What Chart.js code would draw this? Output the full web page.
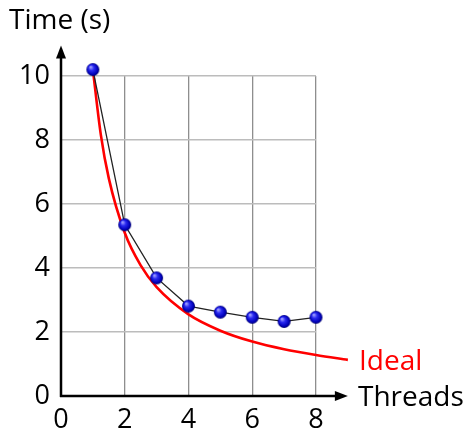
<!DOCTYPE html>
<html>
<head>
<meta charset="utf-8">
<script src="https://cdn.jsdelivr.net/npm/chart.js@4.4.1/dist/chart.umd.min.js"></script>
<style>
  html, body { margin: 0; padding: 0; background: #fff; }
  #wrap { width: 469px; height: 429px; }
</style>
</head>
<body>
<div id="wrap"><canvas id="timeChart" width="469" height="429"></canvas></div>
<script>
// Datos medidos
const threads = [1, 2, 3, 4, 5, 6, 7, 8];
const times = [10.2, 5.35, 3.69, 2.81, 2.62, 2.46, 2.33, 2.46];

// Curva ideal
const idealThreads = [1, 1.25, 1.5, 2, 2.5, 3, 4, 5, 6, 7, 8, 9];
const idealTimes = [10.2, 8.16, 6.8, 5.1, 4.08, 3.4, 2.55, 2.04, 1.7, 1.46, 1.28, 1.13];

const xTicks = [0, 2, 4, 6, 8];
const yTicks = [0, 2, 4, 6, 8, 10];

const FONT = '"Open Sans", "Noto Sans", sans-serif';

// Punto azul con degradado
function makeBall(r) {
    const c = document.createElement('canvas');
    c.width = r * 2 + 2;
    c.height = r * 2 + 2;
    const g = c.getContext('2d');
    const cx = r + 1, cy = r + 1;
    const grad = g.createRadialGradient(cx - r * 0.35, cy - r * 0.4, r * 0.1, cx, cy, r);
    grad.addColorStop(0, '#9a9aff');
    grad.addColorStop(0.35, '#2a2af0');
    grad.addColorStop(0.8, '#0000b8');
    grad.addColorStop(1, '#00006a');
    g.fillStyle = grad;
    g.beginPath();
    g.arc(cx, cy, r, 0, Math.PI * 2);
    g.fill();
    return c;
}

function arrow(ctx, x1, y1, x2, y2) {
    const ang = Math.atan2(y2 - y1, x2 - x1);
    const len = 13, half = 5;
    ctx.beginPath();
    ctx.moveTo(x1, y1);
    ctx.lineTo(x2 - Math.cos(ang) * len * 0.8, y2 - Math.sin(ang) * len * 0.8);
    ctx.stroke();
    ctx.beginPath();
    ctx.moveTo(x2, y2);
    ctx.lineTo(x2 - Math.cos(ang) * len - Math.sin(ang) * half, y2 - Math.sin(ang) * len + Math.cos(ang) * half);
    ctx.lineTo(x2 - Math.cos(ang) * len + Math.sin(ang) * half, y2 - Math.sin(ang) * len - Math.cos(ang) * half);
    ctx.closePath();
    ctx.fill();
}

const axesPlugin = {
    id: 'axesPlugin',
    afterDraw(chart) {
        const ctx = chart.ctx;
        const xs = chart.scales.x, ys = chart.scales.y;
        const x0 = xs.getPixelForValue(0), y0 = ys.getPixelForValue(0);
        ctx.save();
        ctx.strokeStyle = '#000';
        ctx.fillStyle = '#000';
        ctx.lineWidth = 2.5;
        arrow(ctx, x0 - 1, y0, xs.getPixelForValue(9), y0);
        arrow(ctx, x0, y0 + 1, x0, ys.getPixelForValue(10.95));

        ctx.font = '28px ' + FONT;
        ctx.textBaseline = 'alphabetic';
        ctx.textAlign = 'left';
        ctx.fillText('Time (s)', 9, 29);
        ctx.fillText('Threads', 358, 406);
        ctx.fillStyle = '#ff0000';
        ctx.fillText('Ideal', 359, 370);
        ctx.restore();
    }
};

const ctx = document.getElementById('timeChart').getContext('2d');
const timeChart = new Chart(ctx, {
    type: 'line',
    data: {
        datasets: [
            {
                label: 'Measured',
                data: threads.map((t, i) => ({ x: t, y: times[i] })),
                borderColor: '#222',
                borderWidth: 1.3,
                pointStyle: makeBall(6.5),
                pointRadius: 6.5,
                tension: 0,
                clip: false
            },
            {
                label: 'Ideal',
                data: idealThreads.map((t, i) => ({ x: t, y: idealTimes[i] })),
                borderColor: '#ff0000',
                borderWidth: 2.6,
                pointRadius: 0,
                cubicInterpolationMode: 'monotone',
                clip: false
            }
        ]
    },
    options: {
        responsive: false,
        animation: false,
        layout: { padding: { left: 0, right: 153, top: 76, bottom: 0 } },
        plugins: { legend: { display: false }, tooltip: { enabled: false } },
        scales: {
            x: {
                type: 'linear',
                min: 0,
                // el máximo se fija aquí para que la curva ideal pase de 8
                afterDataLimits(scale) { scale.max = 8; },
                afterFit(scale) { scale.height = 33; },
                afterBuildTicks(scale) { scale.ticks = xTicks.map(v => ({ value: v })); },
                border: { display: false },
                grid: { color: '#8e8e8e', lineWidth: 1.3, drawTicks: false },
                ticks: { color: '#000', font: { size: 27, family: FONT }, padding: 8, maxRotation: 0 }
            },
            y: {
                type: 'linear',
                min: 0,
                max: 10,
                afterFit(scale) { scale.width = 61; },
                afterBuildTicks(scale) { scale.ticks = yTicks.map(v => ({ value: v })); },
                border: { display: false },
                grid: { color: '#bcbcbc', lineWidth: 1.6, drawTicks: false },
                ticks: { color: '#000', font: { size: 27, family: FONT }, padding: 11 }
            }
        }
    },
    plugins: [axesPlugin]
});
</script>
</body>
</html>
